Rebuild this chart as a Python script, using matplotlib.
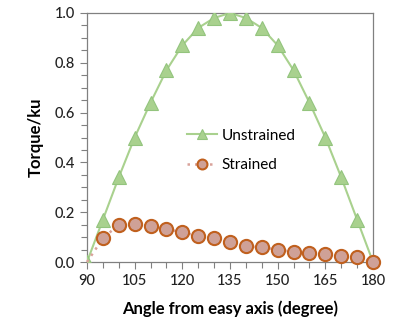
import matplotlib
matplotlib.use("Agg")
import matplotlib.pyplot as plt
from matplotlib.ticker import MultipleLocator

angles = [90, 95, 100, 105, 110, 115, 120, 125, 130, 135, 140, 145, 150, 155, 160, 165, 170, 175, 180]
unstrained = [0.0, 0.17, 0.34, 0.50, 0.64, 0.77, 0.87, 0.94, 0.98, 1.0, 0.98, 0.94, 0.87, 0.77, 0.64, 0.50, 0.34, 0.17, 0.0]
strained = [0.0, 0.095, 0.150, 0.153, 0.144, 0.133, 0.119, 0.105, 0.095, 0.082, 0.063, 0.059, 0.050, 0.040, 0.036, 0.032, 0.023, 0.019, 0.0]
xticks = [90, 105, 120, 135, 150, 165, 180]

plt.rcParams['font.family'] = ['Lato', 'DejaVu Sans']

fig = plt.figure(figsize=(3.96, 3.25), dpi=100)
ax = fig.add_axes([87/396, 1-262/325, (373-87)/396, (262-13)/325])

ax.plot(angles, unstrained, color='#a9d18e', lw=1.5, marker='^', ms=10,
        mfc='#a9d18e', mec='#93c47d', mew=0.8, label='Unstrained', zorder=3, clip_on=True)
ax.plot(angles, strained, color='#d9a39b', lw=1.8, ls=(0, (1, 2.0)), marker='o', ms=9.5,
        mfc='#cfa197', mec='#c0601e', mew=1.5, markevery=list(range(1, len(angles))),
        label='Strained', zorder=4, clip_on=False)

ax.set_xlim(90, 180)
ax.set_ylim(0, 1.0)
ax.set_xticks(xticks)
ax.set_yticks([0.0, 0.2, 0.4, 0.6, 0.8, 1.0])
ax.set_yticklabels(['0.0', '0.2', '0.4', '0.6', '0.8', '1.0'])
ax.xaxis.set_minor_locator(MultipleLocator(5))
ax.yaxis.set_minor_locator(MultipleLocator(0.05))
ax.tick_params(which='both', direction='out', color='#808080', labelsize=10.5, labelcolor='#222222')
ax.tick_params(which='major', length=5, width=0.8)
ax.tick_params(which='minor', length=4, width=0.8)
for t in ax.get_xticklabels() + ax.get_yticklabels():
    t.set_fontweight('medium')
for s in ax.spines.values():
    s.set_color('#808080')
    s.set_linewidth(0.9)

ax.set_xlabel('Angle from easy axis (degree)', fontsize=12, fontweight='bold', labelpad=9)
ax.set_ylabel('Torque/ku', fontsize=12, fontweight='bold', labelpad=8)

leg = ax.legend(loc='upper left', bbox_to_anchor=(0.3, 0.59), frameon=False, fontsize=11,
                handlelength=2.0, labelspacing=1.0, handletextpad=0.3, markerscale=0.75)

fig.savefig('out.png', dpi=100)
